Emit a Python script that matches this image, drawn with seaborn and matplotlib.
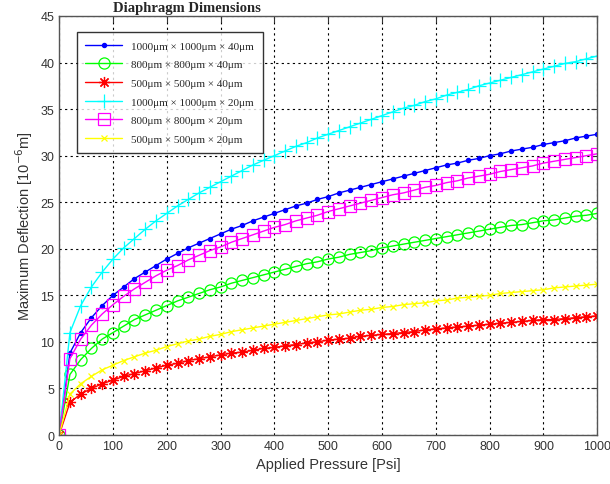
import numpy as np
import pandas as pd
import matplotlib
matplotlib.use('Agg')
import matplotlib.pyplot as plt
import seaborn as sns

# Applied pressure grid (psi)
pressure = list(range(0, 1001, 20))

# Maximum deflection [1e-6 m]
defl_1000_40 = [0, 8.8, 11.0, 12.6, 13.9, 15.0, 15.9, 16.8, 17.5, 18.2, 18.9,
                19.5, 20.1, 20.6, 21.1, 21.6, 22.1, 22.5, 23.0, 23.4, 23.8,
                24.2, 24.6, 24.9, 25.3, 25.6, 26.0, 26.3, 26.6, 26.9, 27.2,
                27.5, 27.8, 28.1, 28.4, 28.7, 29.0, 29.2, 29.5, 29.7, 30.0,
                30.2, 30.5, 30.7, 30.9, 31.2, 31.4, 31.6, 31.9, 32.1, 32.3]
defl_800_40 = [0, 6.5, 8.1, 9.3, 10.3, 11.0, 11.7, 12.4, 12.9, 13.4, 13.9,
               14.4, 14.8, 15.2, 15.6, 15.9, 16.3, 16.6, 16.9, 17.2, 17.5,
               17.8, 18.1, 18.4, 18.6, 18.9, 19.1, 19.4, 19.6, 19.8, 20.1,
               20.3, 20.5, 20.7, 20.9, 21.1, 21.3, 21.5, 21.7, 21.9, 22.1,
               22.3, 22.5, 22.6, 22.8, 23.0, 23.1, 23.3, 23.5, 23.6, 23.8]
defl_500_40 = [0, 3.5, 4.4, 5.0, 5.5, 5.9, 6.3, 6.6, 6.9, 7.2, 7.5,
               7.7, 8.0, 8.2, 8.4, 8.6, 8.8, 8.9, 9.1, 9.3, 9.4,
               9.6, 9.7, 9.9, 10.0, 10.2, 10.3, 10.4, 10.6, 10.7, 10.8,
               10.9, 11.0, 11.1, 11.3, 11.4, 11.5, 11.6, 11.7, 11.8, 11.9,
               12.0, 12.1, 12.2, 12.3, 12.4, 12.4, 12.5, 12.6, 12.7, 12.8]
defl_1000_20 = [0, 11.0, 13.9, 15.9, 17.5, 18.9, 20.1, 21.1, 22.1, 23.0, 23.8,
                24.6, 25.3, 26.0, 26.6, 27.2, 27.8, 28.4, 29.0, 29.5, 30.0,
                30.5, 31.0, 31.4, 31.9, 32.3, 32.7, 33.1, 33.5, 33.9, 34.3,
                34.7, 35.1, 35.4, 35.8, 36.1, 36.5, 36.8, 37.1, 37.5, 37.8,
                38.1, 38.4, 38.7, 39.0, 39.3, 39.6, 39.9, 40.1, 40.4, 40.7]
defl_800_20 = [0, 8.2, 10.3, 11.8, 13.0, 14.0, 14.9, 15.7, 16.4, 17.1, 17.7,
               18.2, 18.8, 19.3, 19.8, 20.2, 20.7, 21.1, 21.5, 21.9, 22.3,
               22.6, 23.0, 23.3, 23.6, 24.0, 24.3, 24.6, 24.9, 25.2, 25.5,
               25.8, 26.0, 26.3, 26.6, 26.8, 27.1, 27.3, 27.6, 27.8, 28.0,
               28.3, 28.5, 28.7, 28.9, 29.2, 29.4, 29.6, 29.8, 30.0, 30.2]
defl_500_20 = [0, 4.4, 5.5, 6.3, 7.0, 7.5, 8.0, 8.4, 8.8, 9.1, 9.5,
               9.8, 10.1, 10.3, 10.6, 10.8, 11.1, 11.3, 11.5, 11.7, 11.9,
               12.1, 12.3, 12.5, 12.7, 12.9, 13.0, 13.2, 13.4, 13.5, 13.7,
               13.8, 14.0, 14.1, 14.2, 14.4, 14.5, 14.7, 14.8, 14.9, 15.0,
               15.2, 15.3, 15.4, 15.5, 15.6, 15.8, 15.9, 16.0, 16.1, 16.2]

labels = ['1000\u03bcm \u00d7 1000\u03bcm \u00d7 40\u03bcm',
          '800\u03bcm \u00d7 800\u03bcm \u00d7 40\u03bcm',
          '500\u03bcm \u00d7 500\u03bcm \u00d7 40\u03bcm',
          '1000\u03bcm \u00d7 1000\u03bcm \u00d7 20\u03bcm',
          '800\u03bcm \u00d7 800\u03bcm \u00d7 20\u03bcm',
          '500\u03bcm \u00d7 500\u03bcm \u00d7 20\u03bcm']
series = [defl_1000_40, defl_800_40, defl_500_40, defl_1000_20, defl_800_20, defl_500_20]

# line styles: colour, marker, marker size, filled
styles = [('#0000ff', '.', 6, True),
          ('#00ff00', 'o', 8, False),
          ('#ff0000', (8, 2, 0), 8, False),
          ('#00ffff', '+', 10, False),
          ('#ff00ff', 's', 9, False),
          ('#ffff00', 'x', 5, False)]

sns.set_style('white')
plt.rcParams['font.family'] = ['Liberation Sans', 'DejaVu Sans']
plt.rcParams['xtick.direction'] = 'in'
plt.rcParams['ytick.direction'] = 'in'

fig = plt.figure(figsize=(6.1, 4.85), dpi=100)
ax = fig.add_axes([0.097, 0.101, 0.882, 0.864])

for vals, lab, (col, mk, ms, filled) in zip(series, labels, styles):
    sns.lineplot(x=pressure, y=vals, ax=ax, color=col, marker=mk, markersize=ms,
                 markerfacecolor=col if filled else 'none', markeredgecolor=col,
                 markeredgewidth=0.9, linewidth=1, label=lab)

ax.set_xlim(0, 1000)
ax.set_ylim(0, 45)
ax.set_xticks(range(0, 1001, 100))
ax.set_yticks(range(0, 46, 5))
ax.grid(True, color='black', linestyle=(0, (2, 3)), linewidth=0.8)
for s in ax.spines.values():
    s.set_color('#555555')
    s.set_linewidth(1)
ax.tick_params(labelsize=9, colors='#333333', length=4, top=True, right=True)
ax.set_xlabel('Applied Pressure [Psi]', fontsize=10.5, color='#333333')
ax.set_ylabel('Maximum Deflection [10$^{-6}$m]', fontsize=10.5, color='#333333')

leg = ax.legend(loc='upper left', bbox_to_anchor=(0.022, 0.975), frameon=True, fancybox=False,
                prop={'family': 'Liberation Serif', 'size': 8}, handlelength=3.3,
                labelspacing=0.8, borderpad=0.8)
leg.get_frame().set_edgecolor('black')
leg.get_frame().set_linewidth(1)

fig.text(0.307, 0.983, 'Diaphragm Dimensions', ha='center', va='center',
         fontsize=10.5, fontweight='bold', family='Liberation Serif')

fig.savefig('out.png', dpi=100)
